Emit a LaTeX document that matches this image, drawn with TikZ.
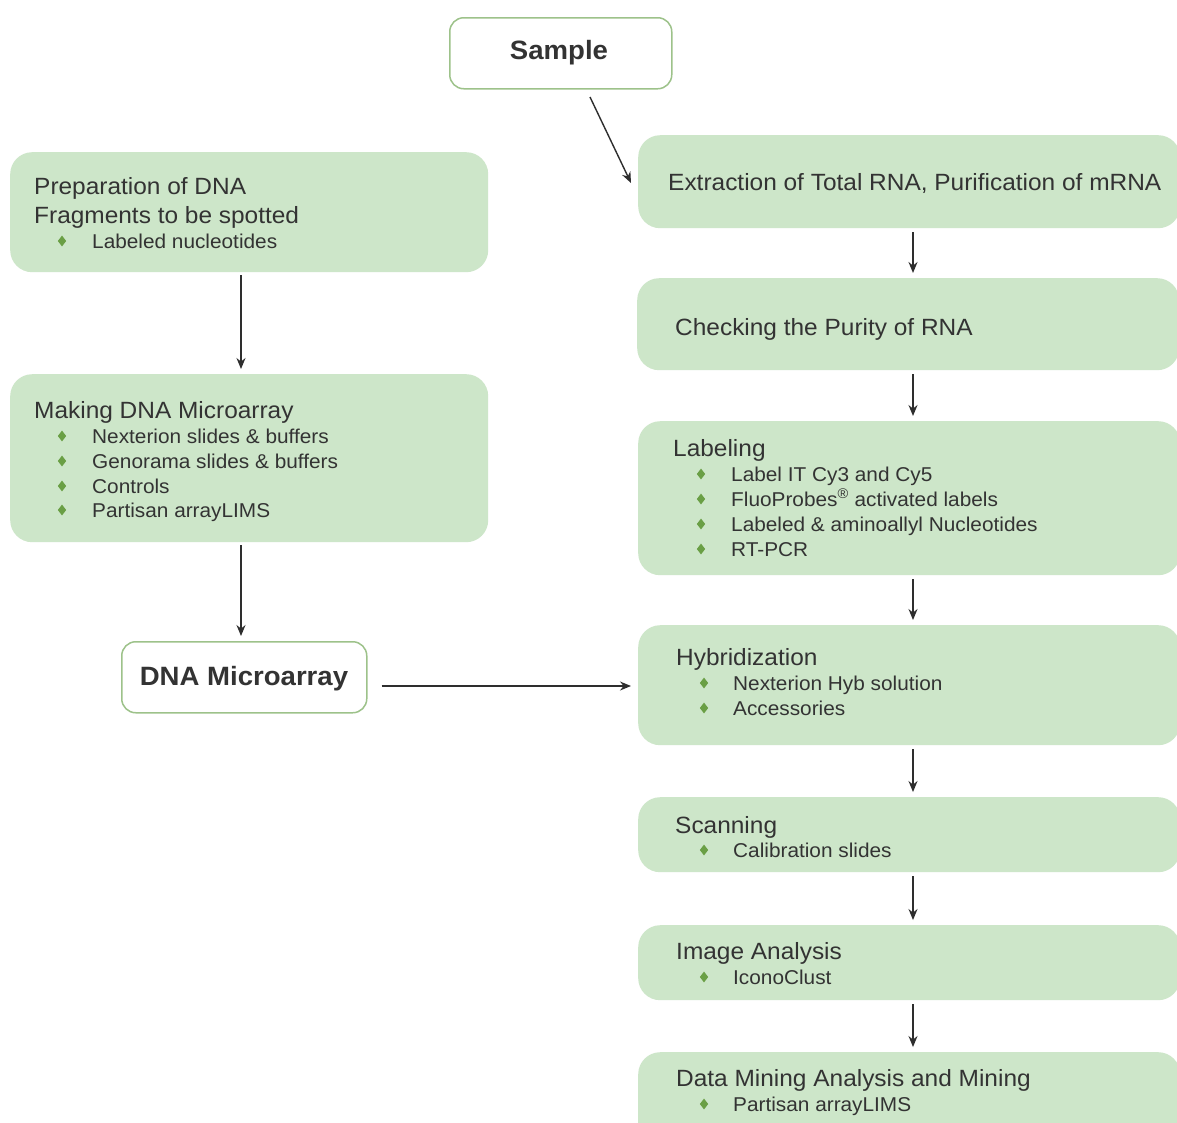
\documentclass[tikz,border=0pt]{standalone}
\usepackage{fontspec}
\setmainfont[FakeStretch=1.04]{Liberation Sans}
\usetikzlibrary{arrows.meta,shapes.geometric}
\definecolor{boxfill}{HTML}{CDE6C9}
\definecolor{boxline}{HTML}{9DC28A}
\definecolor{txt}{HTML}{333333}
\definecolor{bul}{HTML}{6A9F45}
\definecolor{arrc}{HTML}{2E2E2E}
\tikzset{
  gbox/.style={fill=boxfill, draw=none, rounded corners=22pt, anchor=north west, inner sep=0pt},
  wbox/.style={fill=white, draw=boxline, line width=1.5pt, rounded corners=14pt, anchor=north west, inner sep=0pt},
  ttl/.style={anchor=base west, inner sep=0pt, text=txt, font=\fontsize{23.5}{28}\selectfont},
  itm/.style={anchor=base west, inner sep=0pt, text=txt, font=\fontsize{20}{24}\selectfont},
  bld/.style={anchor=center, inner sep=0pt, text=txt, font=\fontsize{26.5}{30}\selectfont\bfseries},
  bull/.style={diamond, fill=bul, draw=none, inner sep=0pt, minimum width=8.5pt, minimum height=11pt},
  arr/.style={draw=arrc, line width=1.4pt, -{Stealth[length=11pt,width=9pt]}},
}
\begin{document}
\begin{tikzpicture}[x=1pt,y=-1pt]
\useasboundingbox (0,0) rectangle (1177,1122);
\fill[white] (0,0) rectangle (1177,1122);

% boxes
\node[wbox, minimum width=222pt, minimum height=71pt] (sample) at (449,17) {};
\node[bld] (sampletxt) at (559,53) {Sample};

\node[gbox, minimum width=478pt, minimum height=120pt] (prep) at (10,152) {};
\node[gbox, minimum width=478pt, minimum height=168pt] (making) at (10,374) {};
\node[wbox, minimum width=245pt, minimum height=71pt] (dnam) at (121,641) {};
\node[bld] (dnamtxt) at (244,679) {DNA Microarray};

\node[gbox, minimum width=542pt, minimum height=93pt] (extr) at (638,135) {};
\node[gbox, minimum width=542pt, minimum height=92pt] (check) at (637,278) {};
\node[gbox, minimum width=542pt, minimum height=154pt] (label) at (638,421) {};
\node[gbox, minimum width=542pt, minimum height=120pt] (hyb) at (638,625) {};
\node[gbox, minimum width=542pt, minimum height=75pt] (scan) at (638,797) {};
\node[gbox, minimum width=542pt, minimum height=75pt] (img) at (638,925) {};
\node[gbox, minimum width=542pt, minimum height=100pt] (data) at (638,1052) {};

% texts left
\node[ttl] (p1) at (34,194) {Preparation of DNA};
\node[ttl] (p2) at (34,223) {Fragments to be spotted};
\node[bull] (pb1) at (62,241) {};
\node[itm] (pi1) at (92,248) {Labeled nucleotides};

\node[ttl] (m1) at (34,418) {Making DNA Microarray};
\node[bull] (mb1) at (62,436) {};
\node[itm] (mi1) at (92,443) {Nexterion slides \& buffers};
\node[bull] (mb2) at (62,461) {};
\node[itm] (mi2) at (92,468) {Genorama slides \& buffers};
\node[bull] (mb3) at (62,486) {};
\node[itm] (mi3) at (92,493) {Controls};
\node[bull] (mb4) at (62,510) {};
\node[itm] (mi4) at (92,517) {Partisan arrayLIMS};

% texts right
\node[ttl] (e1) at (668,190) {Extraction of Total RNA, Purification of mRNA};
\node[ttl] (c1) at (675,335) {Checking the Purity of RNA};

\node[ttl] (l1) at (673,456) {Labeling};
\node[bull] (lb1) at (701,474) {};
\node[itm] (li1) at (731,481) {Label IT Cy3 and Cy5};
\node[bull] (lb2) at (701,499) {};
\node[itm] (li2) at (731,506) {FluoProbes\textsuperscript{®} activated labels};
\node[bull] (lb3) at (701,524) {};
\node[itm] (li3) at (731,531) {Labeled \& aminoallyl Nucleotides};
\node[bull] (lb4) at (701,549) {};
\node[itm] (li4) at (731,556) {RT-PCR};

\node[ttl] (h1) at (676,665) {Hybridization};
\node[bull] (hb1) at (704,683) {};
\node[itm] (hi1) at (733,690) {Nexterion Hyb solution};
\node[bull] (hb2) at (704,708) {};
\node[itm] (hi2) at (733,715) {Accessories};

\node[ttl] (s1) at (675,833) {Scanning};
\node[bull] (sb1) at (704,850) {};
\node[itm] (si1) at (733,857) {Calibration slides};

\node[ttl] (i1) at (676,959) {Image Analysis};
\node[bull] (ib1) at (704,977) {};
\node[itm] (ii1) at (733,984) {IconoClust};

\node[ttl] (d1) at (676,1086) {Data Mining Analysis and Mining};
\node[bull] (db1) at (704,1104) {};
\node[itm] (di1) at (733,1111) {Partisan arrayLIMS};

% connectors
\coordinate (lx) at (241,0);
\coordinate (rx) at (913,0);
\coordinate (hy) at (0,686);
\coordinate (sa) at (590,97);
\coordinate (ea) at (631,183);

\draw[arr] (sa) -- (ea);
\draw[arr, shorten <=3pt, shorten >=5pt] (prep.south -| lx) -- (making.north -| lx);
\draw[arr, shorten <=3pt, shorten >=5pt] (making.south -| lx) -- (dnam.north -| lx);
\draw[arr, shorten <=14pt, shorten >=7pt] (dnam.east |- hy) -- (hyb.west |- hy);

\draw[arr, shorten <=4pt, shorten >=5pt] (extr.south -| rx) -- (check.north -| rx);
\draw[arr, shorten <=4pt, shorten >=5pt] (check.south -| rx) -- (label.north -| rx);
\draw[arr, shorten <=4pt, shorten >=5pt] (label.south -| rx) -- (hyb.north -| rx);
\draw[arr, shorten <=4pt, shorten >=5pt] (hyb.south -| rx) -- (scan.north -| rx);
\draw[arr, shorten <=4pt, shorten >=5pt] (scan.south -| rx) -- (img.north -| rx);
\draw[arr, shorten <=4pt, shorten >=5pt] (img.south -| rx) -- (data.north -| rx);
\end{tikzpicture}
\end{document}
